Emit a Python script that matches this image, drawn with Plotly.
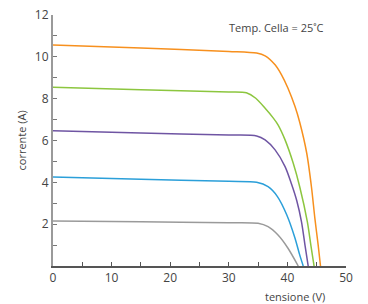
import plotly.graph_objects as go

# Data (tensione V, corrente A)
orange_v = [0, 15, 30, 34.75, 36.2, 37.9, 39.0, 40.1, 41.3, 42.1, 43.3, 44.1, 44.7, 45.25, 45.65]
orange_i = [10.57, 10.42, 10.26, 10.18, 10.05, 9.62, 9.14, 8.5, 7.62, 6.87, 5.39, 3.79, 2.25, 1.0, 0]

green_v = [0, 15, 30, 33.0, 34.6, 36.2, 37.6, 38.4, 39.6, 41.0, 42.1, 43.4, 44.0, 44.55]
green_i = [8.55, 8.43, 8.32, 8.28, 8.02, 7.54, 7.07, 6.75, 6.03, 4.91, 3.79, 2.12, 1.0, 0]

purple_v = [0, 15, 30, 34.75, 36.2, 37.9, 39.6, 40.7, 41.6, 42.4, 43.0, 43.55]
purple_i = [6.47, 6.36, 6.26, 6.22, 6.03, 5.55, 4.75, 3.92, 3.12, 2.12, 1.0, 0]

blue_v = [0, 15, 30, 34.75, 36.7, 38.3, 39.9, 41.3, 42.1, 42.7]
blue_i = [4.26, 4.15, 4.05, 4.0, 3.79, 3.32, 2.44, 1.33, 0.53, 0]

grey_v = [0, 15, 30, 35.0, 36.7, 38.4, 40.1, 41.85]
grey_i = [2.15, 2.11, 2.07, 2.04, 1.88, 1.48, 0.85, 0]

series = [
    (orange_v, orange_i, "#f7901e"),
    (green_v, green_i, "#8cc63f"),
    (purple_v, purple_i, "#6f55a3"),
    (blue_v, blue_i, "#2b9fd9"),
    (grey_v, grey_i, "#9a9a9a"),
]

y_tickvals = list(range(1, 13))
y_ticktext = [str(v) if v % 2 == 0 else "" for v in y_tickvals]
x_tickvals = list(range(0, 51, 5))
x_ticktext = [str(v) if v % 10 == 0 else "" for v in x_tickvals]

fig = go.Figure()
for v, i, c in series:
    fig.add_trace(go.Scatter(x=v, y=i, mode="lines",
                             line=dict(color=c, width=1.5, shape="spline", smoothing=0.8),
                             showlegend=False, hoverinfo="skip"))

font_color = "#444444"
L, R, T, B = 53, 22, 15, 38
pw, ph = 368 - L - R, 304 - T - B
fig.update_layout(
    width=368, height=304,
    margin=dict(l=L, r=R, t=T, b=B, autoexpand=False),
    paper_bgcolor="white", plot_bgcolor="white",
    font=dict(family="Open Sans, sans-serif", size=11, color=font_color),
    xaxis=dict(range=[0, 50], showgrid=False, zeroline=False, automargin=False,
               showline=True, linecolor="#555555", linewidth=1.5,
               ticks="inside", ticklen=4, tickcolor="#555555", tickwidth=1,
               tickvals=x_tickvals, ticktext=x_ticktext,
               tickfont=dict(size=12, color=font_color)),
    yaxis=dict(range=[0, 12], showgrid=False, zeroline=False, automargin=False,
               showline=True, linecolor="#9a9a9a", linewidth=2,
               ticks="inside", ticklen=4, tickcolor="#777777", tickwidth=1,
               tickvals=y_tickvals, ticktext=y_ticktext,
               tickfont=dict(size=12, color=font_color)),
    annotations=[
        dict(text="Temp. Cella = 25˚C", xref="paper", yref="paper",
             x=(276 - L) / pw, y=(304 - B - 28) / ph, xanchor="center", yanchor="middle",
             showarrow=False, font=dict(size=11, color=font_color)),
        dict(text="tensione (V)", xref="paper", yref="paper",
             x=(295 - L) / pw, y=-(296 - (304 - B)) / ph, xanchor="center", yanchor="middle",
             showarrow=False, font=dict(size=11, color=font_color)),
        dict(text="corrente (A)", xref="paper", yref="paper",
             x=-(L - 21) / pw, y=0.5, xanchor="center", yanchor="middle", textangle=-90,
             showarrow=False, font=dict(size=11, color=font_color)),
    ],
)

fig.write_html("out.html", config={"displayModeBar": False},
               post_script="document.body.style.margin='0';")
